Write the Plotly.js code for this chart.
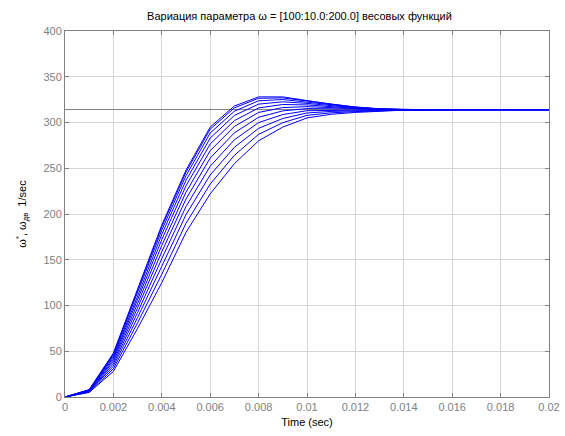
<!DOCTYPE html>
<html>
<head>
<meta charset="utf-8">
<script src="https://cdn.plot.ly/plotly-3.0.1.min.js"></script>
<style>html,body{margin:0;padding:0;background:#fff;}#chart{width:565px;height:436px;}</style>
</head>
<body>
<div id="chart"></div>
<script>
// Time samples (sec)
var timeSec = [0,0.001,0.002,0.003,0.004,0.005,0.006,0.007,0.008,0.009,0.010,0.011,0.012,0.013,0.014,0.015,0.016,0.017,0.018,0.019,0.020];

// Responses for omega = 100,110,...,200
var w100 = [0,5.0,28.0,75.0,125.0,180.0,222.0,255.0,280.0,295.0,305.0,309.0,311.0,312.5,313.5,314,314,314,314,314,314];
var w110 = [0,5.4,30.9,81.1,134.2,189.9,232.7,264.2,287.0,299.8,307.8,310.6,311.9,312.9,313.6,314,314,314,314,314,314];
var w120 = [0,5.9,33.7,86.9,142.9,199.3,242.7,272.9,293.6,304.4,310.4,312.1,312.7,313.2,313.6,314,314,314,314,314,314];
var w130 = [0,6.2,36.3,92.4,151.1,208.2,252.2,281.1,299.9,308.7,312.9,313.6,313.5,313.5,313.7,314,314,314,314,314,314];
var w140 = [0,6.6,38.7,97.5,158.7,216.4,261.1,288.7,305.7,312.7,315.2,314.9,314.2,313.8,313.8,314,314,314,314,314,314];
var w150 = [0,6.9,40.9,102.1,165.7,223.9,269.2,295.7,311.0,316.3,317.3,316.1,314.9,314.1,313.8,314,314,314,314,314,314];
var w160 = [0,7.2,42.9,106.4,172.1,230.8,276.5,302.1,315.9,319.7,319.2,317.2,315.5,314.4,313.9,314,314,314,314,314,314];
var w170 = [0,7.5,44.7,110.1,177.7,236.8,283.0,307.7,320.1,322.6,320.9,318.2,316.0,314.6,313.9,314,314,314,314,314,314];
var w180 = [0,7.7,46.2,113.3,182.4,241.9,288.5,312.4,323.7,325.1,322.3,319.0,316.5,314.8,314.0,314,314,314,314,314,314];
var w190 = [0,7.9,47.4,115.7,186.0,245.8,292.7,316.0,326.5,326.9,323.4,319.6,316.8,314.9,314.0,314,314,314,314,314,314];
var w200 = [0,8.0,48.0,117.0,188.0,248.0,295.0,318.0,328.0,328.0,324.0,320.0,317.0,315.0,314.0,314,314,314,314,314,314];

// Reference level
var refX = [0, 0.02];
var refY = [314.16, 314.16];

// Tick labels
var xTickVals = [0,0.002,0.004,0.006,0.008,0.01,0.012,0.014,0.016,0.018,0.02];
var xTickText = ['0','0.002','0.004','0.006','0.008','0.01','0.012','0.014','0.016','0.018','0.02'];
var yTickVals = [0,50,100,150,200,250,300,350,400];

var series = [w100,w110,w120,w130,w140,w150,w160,w170,w180,w190,w200];
var traces = [{
  x: refX, y: refY, mode: 'lines', line: {color: '#808080', width: 1}, hoverinfo: 'skip'
}];
series.forEach(function(s){
  traces.push({x: timeSec, y: s, mode: 'lines', line: {color: '#0000ff', width: 1}});
});

var axisCommon = {
  showline: true, linecolor: '#808080', linewidth: 1, mirror: 'ticks',
  ticks: 'inside', ticklen: 4, tickcolor: '#808080',
  showgrid: true, gridcolor: '#d6d6d6', gridwidth: 1,
  zeroline: false,
  tickfont: {family: 'Liberation Sans, Arial, sans-serif', size: 11, color: '#808080'}
};

var layout = {
  width: 565, height: 436,
  paper_bgcolor: '#ffffff', plot_bgcolor: '#ffffff',
  showlegend: false,
  margin: {l: 65, r: 16, t: 31, b: 39},
  title: {
    text: 'Вариация параметра ω = [100:10.0:200.0] весовых функций',
    font: {family: 'Liberation Sans, Arial, sans-serif', size: 11, color: '#000'},
    x: 0.53, xanchor: 'center', y: 0.962, yanchor: 'middle'
  },
  xaxis: Object.assign({}, axisCommon, {
    range: [0, 0.02], tickvals: xTickVals, ticktext: xTickText,
    title: {text: 'Time (sec)', font: {family: 'Liberation Sans, Arial, sans-serif', size: 11, color: '#000'}, standoff: 6}
  }),
  yaxis: Object.assign({}, axisCommon, {
    range: [0, 400], tickvals: yTickVals,
    title: {text: 'ω<sup>*</sup>, ω<sub>дв</sub>  1/sec', font: {family: 'Liberation Sans, Arial, sans-serif', size: 11, color: '#000'}, standoff: 14}
  })
};

Plotly.newPlot('chart', traces, layout, {staticPlot: true, displayModeBar: false});
</script>
</body>
</html>
